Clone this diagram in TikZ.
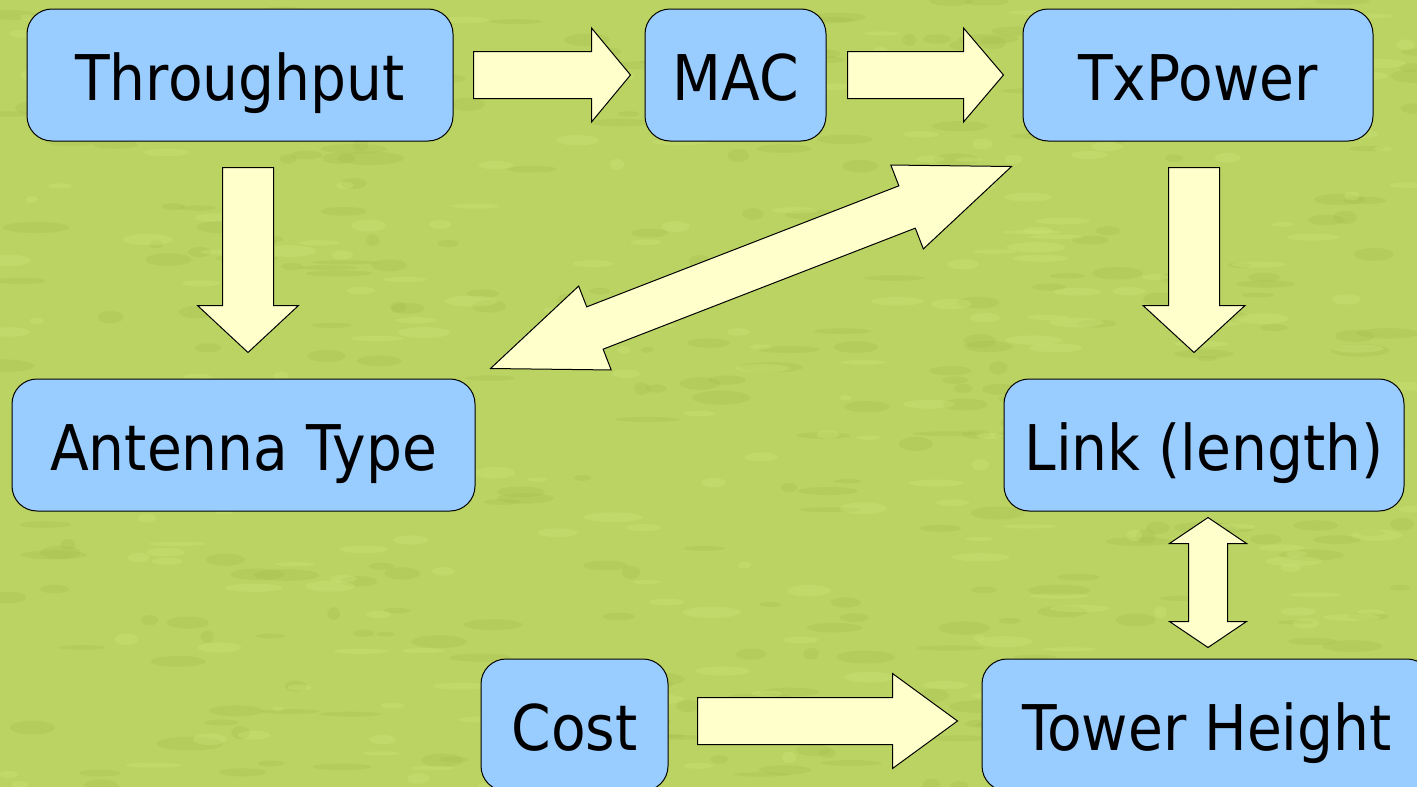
\documentclass[tikz,border=0pt]{standalone}
\usepackage{fontspec}
\setmainfont{DejaVu Sans}[FakeStretch=0.9]
\usetikzlibrary{calc, positioning}

\definecolor{boxblue}{HTML}{99CCFF}
\definecolor{arrowfill}{HTML}{FFFFCC}
\definecolor{grass}{HTML}{BBD363}
\definecolor{grassdark}{HTML}{9CB440}
\definecolor{grasslight}{HTML}{D0E67C}

\tikzset{
    box/.style={draw=black, fill=boxblue, line width=1pt, rounded corners=25pt,
        minimum height=132pt, text height=50pt, text depth=0pt,
        font=\fontsize{63}{72}\selectfont},
    blockarrow/.style={draw=black, fill=arrowfill, line width=1pt, line join=miter}
}

% block arrow from #1 to #2: half shaft #3, half head #4, head length #5
\newcommand{\blockarrow}[5]{%
    \coordinate (hb) at ($(#2)!#5!(#1)$);
    \draw[blockarrow] ($(#1)!#3!90:(#2)$) -- ($(hb)!#3!90:(#2)$) -- ($(hb)!#4!90:(#2)$)
        -- (#2) -- ($(hb)!#4!-90:(#2)$) -- ($(hb)!#3!-90:(#2)$) -- ($(#1)!#3!-90:(#2)$) -- cycle;
}
% same with a head at both ends
\newcommand{\dblockarrow}[5]{%
    \coordinate (hb1) at ($(#1)!#5!(#2)$);
    \coordinate (hb2) at ($(#2)!#5!(#1)$);
    \draw[blockarrow] (#1) -- ($(hb1)!#4!90:(#2)$) -- ($(hb1)!#3!90:(#2)$)
        -- ($(hb2)!#3!90:(#2)$) -- ($(hb2)!#4!90:(#2)$) -- (#2)
        -- ($(hb2)!#4!-90:(#2)$) -- ($(hb2)!#3!-90:(#2)$)
        -- ($(hb1)!#3!-90:(#2)$) -- ($(hb1)!#4!-90:(#2)$) -- cycle;
}

\begin{document}
\begin{tikzpicture}[x=1pt, y=-1pt]
    \useasboundingbox (0,0) rectangle (1417,787);
    \clip (0,0) rectangle (1417,787);
    % grass background
    \fill[grass] (0,0) rectangle (1417,787);
    \pgfmathsetseed{17}
    \foreach \k in {1,...,360}{
        \pgfmathsetmacro\px{rnd*1417}
        \pgfmathsetmacro\py{rnd*787}
        \fill[grassdark, opacity=0.2] (\px,\py) ellipse ({6+rnd*28} and {2+rnd*5});
    }
    \foreach \k in {1,...,260}{
        \pgfmathsetmacro\px{rnd*1417}
        \pgfmathsetmacro\py{rnd*787}
        \fill[grasslight, opacity=0.3] (\px,\py) ellipse ({6+rnd*24} and {2+rnd*4});
    }

    \node[box, minimum width=426pt] (thr) at (240,75) {Throughput};
    \node[box, minimum width=181pt] (mac) at (735.5,75) {MAC};
    \node[box, minimum width=350pt] (txp) at (1198,75) {TxPower};
    \node[box, minimum width=463pt] (ant) at (243.5,445) {Antenna Type};
    \node[box, minimum width=400pt] (lnk) at (1204,445) {Link (length)};
    \node[box, minimum width=187pt] (cst) at (574.5,725) {Cost};
    \node[box, minimum width=450pt] (twr) at (1207,725) {Tower Height};

    \coordinate (a1s) at ($(thr.east)+(20,0)$);
    \coordinate (a1e) at ($(mac.west)+(-14,0)$);
    \coordinate (a2s) at ($(mac.east)+(21,0)$);
    \coordinate (a2e) at ($(txp.west)+(-19,0)$);
    \coordinate (a3s) at ($(thr.south)+(8,26)$);
    \coordinate (a3e) at ($(ant.north)+(4.5,-26)$);
    \coordinate (a4s) at ($(txp.south)+(-4,26)$);
    \coordinate (a4e) at ($(lnk.north)+(-10,-26)$);
    \coordinate (a5s) at ($(cst.east)+(29,-4)$);
    \coordinate (a5e) at ($(twr.west)+(-24,-4)$);
    \coordinate (a6s) at ($(lnk.south)+(4,6)$);
    \coordinate (a6e) at ($(twr.north)+(1,-11)$);
    \coordinate (a7s) at ($(ant.north east)+(15,-10)$);
    \coordinate (a7e) at ($(txp.south west)+(-11,25)$);

    \blockarrow{a1s}{a1e}{23.5pt}{47pt}{39pt}
    \blockarrow{a2s}{a2e}{23.5pt}{47pt}{40pt}
    \blockarrow{a3s}{a3e}{25.5pt}{50.5pt}{47pt}
    \blockarrow{a4s}{a4e}{25.5pt}{51pt}{47pt}
    \blockarrow{a5s}{a5e}{23.5pt}{47.5pt}{65pt}
    \dblockarrow{a6s}{a6e}{19.5pt}{38.5pt}{26pt}
    \dblockarrow{a7s}{a7e}{22.7pt}{45pt}{112pt}
\end{tikzpicture}
\end{document}
